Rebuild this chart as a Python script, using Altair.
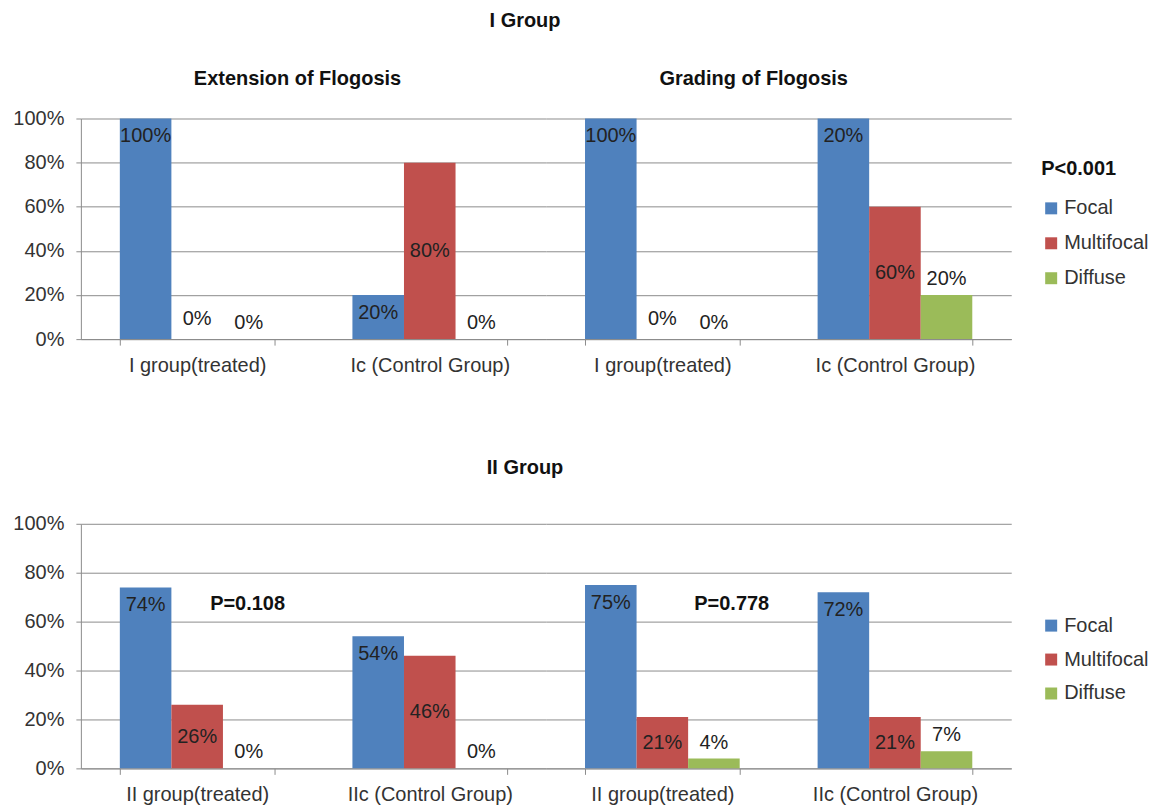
import altair as alt
import pandas as pd

SERIES = ["Focal", "Multifocal", "Diffuse"]
COLORS = ["#4F81BD", "#C0504D", "#9BBB59"]

cats_I = ["I group(treated)", "Ic (Control Group)"]
cats_II = ["II group(treated)", "IIc (Control Group)"]

# I Group - Extension of Flogosis
ext_I_focal = [100, 20]
ext_I_multi = [0, 80]
ext_I_diffuse = [0, 0]
# I Group - Grading of Flogosis
grad_I_focal = [100, 100]
grad_I_multi = [0, 60]
grad_I_diffuse = [0, 20]
grad_I_focal_labels = ["100%", "20%"]
# II Group - Extension
ext_II_focal = [74, 54]
ext_II_multi = [26, 46]
ext_II_diffuse = [0, 0]
# II Group - Grading
grad_II_focal = [75, 72]
grad_II_multi = [21, 21]
grad_II_diffuse = [4, 7]

FONT = "Liberation Sans"
GRID = "#8c8c8c"
TXT = "#333333"
LBL = "#222222"


def make_df(cats, focal, multi, diffuse, focal_labels=None):
    rows = []
    for s, vals in zip(SERIES, [focal, multi, diffuse]):
        for i, (c, v) in enumerate(zip(cats, vals)):
            lab = f"{v}%"
            if s == "Focal" and focal_labels:
                lab = focal_labels[i]
            rows.append(dict(cat=c, series=s, value=v, label=lab))
    return pd.DataFrame(rows)


def half(df, cats, width, height, show_y, legend, title=None, ptext=None, px=None, py=None):
    x = alt.X("cat:N", sort=cats,
              scale=alt.Scale(paddingInner=0.335, paddingOuter=0.1675),
              axis=alt.Axis(title=None, labelAngle=0, tickBand="extent", tickSize=6,
                            tickColor=GRID, domainColor=GRID, labelFontSize=20,
                            labelFont=FONT, labelColor=TXT, labelPadding=10, grid=False))
    xo = alt.XOffset("series:N", sort=SERIES, scale=alt.Scale(paddingInner=0, paddingOuter=0))
    if show_y:
        yaxis = alt.Axis(values=[0, 20, 40, 60, 80, 100], labelExpr="datum.value + '%'",
                         title=None, tickSize=5, tickColor=GRID, domainColor=GRID,
                         gridColor=GRID, labelFontSize=20, labelFont=FONT,
                         labelColor=TXT, labelPadding=12, grid=True)
    else:
        yaxis = alt.Axis(values=[0, 20, 40, 60, 80, 100], labels=False, ticks=False,
                         domain=False, title=None, gridColor=GRID, grid=True)
    yscale = alt.Scale(domain=[0, 100], nice=False)
    color = alt.Color("series:N", sort=SERIES,
                      scale=alt.Scale(domain=SERIES, range=COLORS), legend=legend)
    base = alt.Chart(df)
    bars = base.mark_bar().encode(
        x=x, xOffset=xo, y=alt.Y("value:Q", scale=yscale, axis=yaxis), color=color)
    t_focal = base.transform_filter("datum.series == 'Focal'").mark_text(
        baseline="top", dy=8, fontSize=20, font=FONT, color=LBL).encode(
        x=x, xOffset=xo, y=alt.Y("value:Q"), text="label:N")
    t_multi = base.transform_filter("datum.series == 'Multifocal'").transform_calculate(
        pos="max(datum.value / 2, 9)").mark_text(
        baseline="middle", fontSize=20, font=FONT, color=LBL).encode(
        x=x, xOffset=xo, y=alt.Y("pos:Q"), text="label:N")
    t_diff = base.transform_filter("datum.series == 'Diffuse'").transform_calculate(
        pos="datum.value").mark_text(
        baseline="bottom", dy=-6, fontSize=20, font=FONT, color=LBL).encode(
        x=x, xOffset=xo, y=alt.Y("pos:Q"), text="label:N")
    layers = [bars, t_focal, t_multi, t_diff]
    if ptext:
        p = alt.Chart(pd.DataFrame({"p": [ptext]})).mark_text(
            fontSize=20, font=FONT, fontWeight="bold", color="#111111").encode(
            x=alt.value(px), y=alt.Y(datum=py), text="p:N")
        layers.append(p)
    ch = alt.layer(*layers).properties(width=width, height=height)
    if title:
        ch = ch.properties(title=title)
    return ch


legend_top = alt.Legend(title="P<0.001", orient="none", legendX=962, legendY=41,
                        symbolType="square", symbolSize=144, symbolStrokeWidth=0,
                        labelFontSize=20, labelFont=FONT, labelColor=TXT,
                        titleFontSize=20, titleFont=FONT, titleFontWeight="bold",
                        titleColor="#111111", rowPadding=15, titlePadding=19, labelOffset=3)
legend_bot = alt.Legend(title=None, orient="none", legendX=962, legendY=92,
                        symbolType="square", symbolSize=144, symbolStrokeWidth=0,
                        labelFontSize=20, labelFont=FONT, labelColor=TXT,
                        rowPadding=14, labelOffset=3)

W = 466
top_left = half(make_df(cats_I, ext_I_focal, ext_I_multi, ext_I_diffuse), cats_I, W, 221, True,
                legend_top,
                title=alt.TitleParams("Extension of Flogosis", fontSize=20, font=FONT,
                                      fontWeight="bold", color="#111111", offset=20, dx=-16,
                                      anchor="middle"))
top_right = half(make_df(cats_I, grad_I_focal, grad_I_multi, grad_I_diffuse, grad_I_focal_labels),
                 cats_I, W, 221, False, legend_top,
                 title=alt.TitleParams("Grading of Flogosis", fontSize=20, font=FONT,
                                       fontWeight="bold", color="#111111", offset=30, dx=-25,
                                       anchor="middle"))
bot_left = half(make_df(cats_II, ext_II_focal, ext_II_multi, ext_II_diffuse), cats_II, W, 245, True,
                legend_bot, ptext="P=0.108", px=167, py=67)
bot_right = half(make_df(cats_II, grad_II_focal, grad_II_multi, grad_II_diffuse), cats_II, W, 245,
                 False, legend_bot, ptext="P=0.778", px=186, py=67)

top = alt.hconcat(top_left, top_right, spacing=0,
                  title=alt.TitleParams("I Group", fontSize=20, font=FONT, fontWeight="bold",
                                        color="#111111", offset=38, dx=-56, anchor="middle"))
bottom = alt.hconcat(bot_left, bot_right, spacing=0,
                     title=alt.TitleParams("II Group", fontSize=20, font=FONT, fontWeight="bold",
                                           color="#111111", offset=36, dx=-56, anchor="middle"))

chart = alt.vconcat(top, bottom, spacing=83).resolve_scale(color="independent").properties(
    padding={"left": 4, "top": 2, "right": 0, "bottom": 0}
).configure(font=FONT).configure_view(stroke="transparent", strokeWidth=0, strokeOpacity=0)

chart.save("out.html", embed_options={"renderer": "svg", "actions": False})
